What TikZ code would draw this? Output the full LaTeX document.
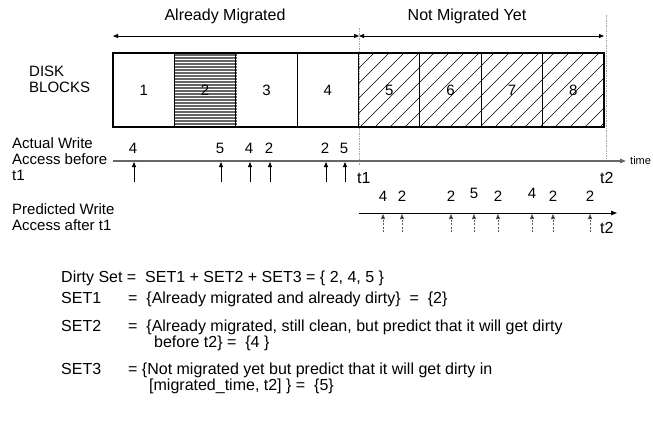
\documentclass[tikz,border=0pt]{standalone}
\usepackage{fontspec}
\setmainfont{Liberation Sans}
\usetikzlibrary{arrows.meta}

\begin{document}
\begin{tikzpicture}[x=1pt,y=-1pt,
  txt/.style={inner sep=0pt, font=\fontsize{15}{17}\selectfont},
  big/.style={inner sep=0pt, font=\fontsize{16}{18}\selectfont},
  blk/.style={draw=black, line width=1.1pt, minimum width=61.4pt, minimum height=74pt, inner sep=0pt, font=\fontsize{15}{17}\selectfont},
  span/.style={line width=0.8pt, {Triangle[length=5pt,width=4pt]}-{Triangle[length=5pt,width=4pt]}},
  axis/.style={draw=gray!80!black, line width=1.4pt, -{Triangle[length=6pt,width=4.5pt]}},
  axisb/.style={draw=black, line width=1pt, -{Triangle[length=6pt,width=4.5pt]}},
  mark1/.style={draw=black, line width=0.9pt, -{Triangle[length=5pt,width=4pt]}},
  mark2/.style={draw=gray!70!black, line width=0.8pt, dash pattern=on 2pt off 1.5pt, -{Triangle[length=5pt,width=4pt,fill=black]}},
  guide/.style={draw=gray!70, line width=0.9pt, dash pattern=on 1.5pt off 1pt},
]
\useasboundingbox (0,0) rectangle (653,439);

% ---- headings and span arrows
\node[big, anchor=base] (hA) at (225,20) {Already Migrated};
\node[big, anchor=base] (hN) at (467,20) {Not Migrated Yet};
\coordinate (s0) at (113,36);
\coordinate (s1) at (359,36);
\coordinate (s2) at (604,36);
\draw[span] (s0) -- (s1);
\draw[span] (s1) -- (s2);

% ---- t1 / t2 guide lines
\coordinate (g1a) at (359,28);  \coordinate (g1b) at (359,165);
\coordinate (g2a) at (606,15);  \coordinate (g2b) at (606,160);
\draw[guide] (g1a) -- (g1b);
\draw[guide] (g2a) -- (g2b);

% ---- block fills
% block 2: dense horizontal rules
\foreach \y in {55,58,...,126}
  \draw[black!60, line width=1.6pt] (175.4,\y) -- (236.8,\y);
% blocks 5-8: diagonal hatching
\begin{scope}
  \clip (359,53) rectangle (604,127);
  \foreach \k in {270,285,...,620}
    \draw[black, line width=0.6pt] (\k,127) -- ++(80,-80);
\end{scope}

% ---- disk blocks
\node[txt, anchor=base west] (dk1) at (29,76) {DISK};
\node[txt, anchor=base west] (dk2) at (29,92) {BLOCKS};
\foreach \i in {1,...,8}
  \node[blk] (b\i) at ({113+61.375*(\i-0.5)},90) {\raisebox{-2pt}{\i}};

% ---- actual write accesses before t1
\node[txt, anchor=base west] (aw1) at (12,148) {Actual Write};
\node[txt, anchor=base west] (aw2) at (12,164) {Access before};
\node[txt, anchor=base west] (aw3) at (12,180) {t1};
\coordinate (ax0) at (113,161);
\coordinate (ax1) at (626,161);
\draw[axis] (ax0) -- (ax1);
\node[inner sep=0pt, anchor=base west, font=\fontsize{11}{13}\selectfont] (time) at (630,164) {time};
\foreach \x/\n [count=\j] in {134/4, 221/5, 250/4, 270/2, 326/2, 345/5} {
  \coordinate (p\j) at (\x,182);
  \coordinate (q\j) at (\x,162);
  \draw[mark1] (p\j) -- (q\j);
  \node[txt, anchor=base] (an\j) at (\x-1,153) {\n};
}
\node[big, anchor=base west] (t1) at (357,183) {t1};
\node[big, anchor=base west] (t2a) at (600,183) {t2};

% ---- predicted write accesses after t1
\node[txt, anchor=base west] (pw1) at (12,214) {Predicted Write};
\node[txt, anchor=base west] (pw2) at (12,230) {Access after t1};
\coordinate (bx0) at (359,213);
\coordinate (bx1) at (617,213);
\draw[axisb] (bx0) -- (bx1);
\foreach \x/\n/\b [count=\j] in {383/4/201, 402/2/201, 451/2/201, 474/5/198, 498/2/201, 532/4/198, 553/2/201, 590/2/201} {
  \coordinate (u\j) at (\x,232);
  \coordinate (v\j) at (\x,214);
  \draw[mark2] (u\j) -- (v\j);
  \node[txt, anchor=base] (pn\j) at (\x,\b) {\n};
}
\node[big, anchor=base west] (t2b) at (600,233) {t2};

% ---- dirty set definitions
\node[big, anchor=base west] (ds) at (61,282) {Dirty Set =\ \ SET1 + SET2 + SET3 = \{ 2, 4, 5 \}};
\node[big, anchor=base west] (s1n) at (61,303) {SET1};
\node[big, anchor=base west] (s1d) at (128,303) {=\ \ \{Already migrated and already dirty\}\ \ =\ \ \{2\}};
\node[big, anchor=base west] (s2n) at (61,331) {SET2};
\node[big, anchor=base west] (s2d) at (128,331) {=\ \ \{Already migrated, still clean, but predict that it will get dirty};
\node[big, anchor=base west] (s2e) at (154,347) {before t2\} =\ \ \{4 \}};
\node[big, anchor=base west] (s3n) at (61,374) {SET3};
\node[big, anchor=base west] (s3d) at (128,374) {= \{Not migrated yet but predict that it will get dirty in};
\node[big, anchor=base west] (s3e) at (149,390) {[migrated\_time, t2] \} =\ \ \{5\}};
\end{tikzpicture}
\end{document}
